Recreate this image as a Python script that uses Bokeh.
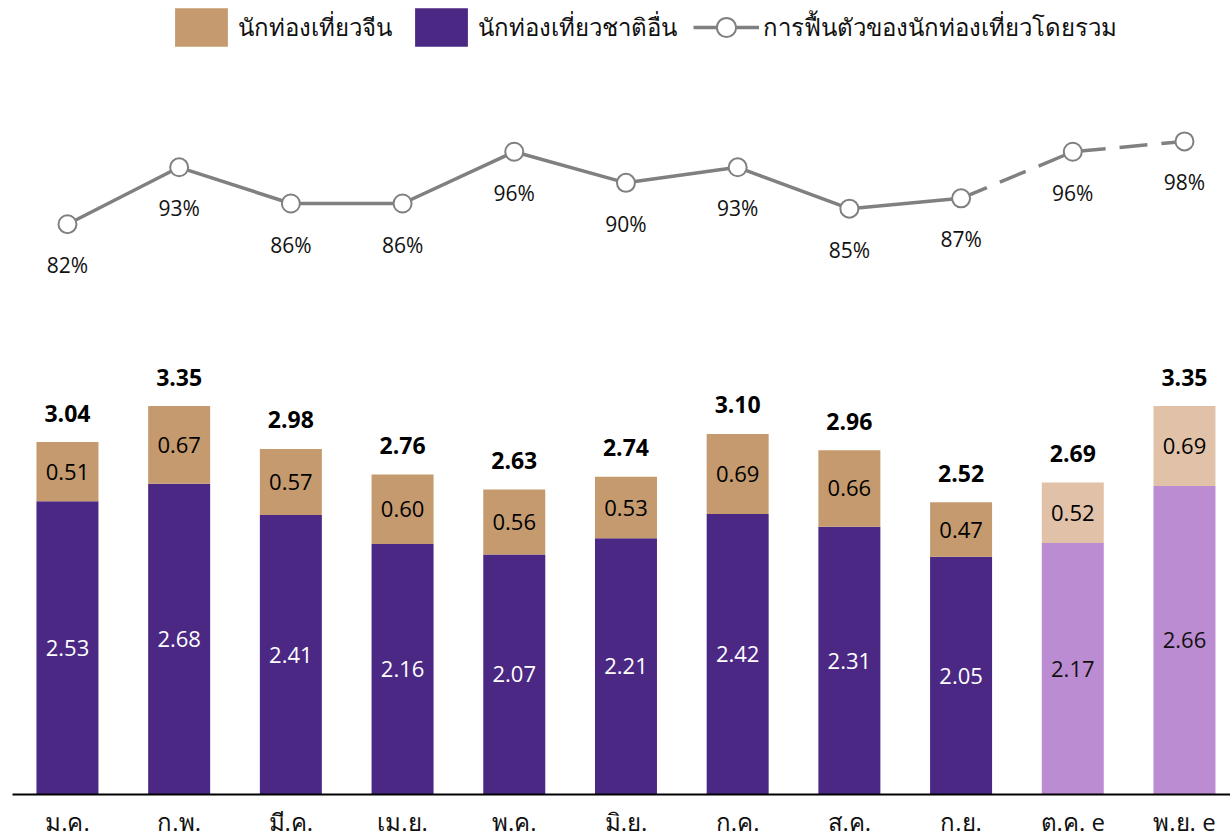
from bokeh.plotting import figure
from bokeh.models import ColumnDataSource, Range1d, FixedTicker, Legend, LegendItem
from bokeh.core.properties import value
from bokeh.embed import file_html
from bokeh.resources import INLINE

months = ["ม.ค.", "ก.พ.", "มี.ค.", "เม.ย.", "พ.ค.", "มิ.ย.", "ก.ค.", "ส.ค.", "ก.ย.", "ต.ค. e", "พ.ย. e"]
china = [0.51, 0.67, 0.57, 0.60, 0.56, 0.53, 0.69, 0.66, 0.47, 0.52, 0.69]
others = [2.53, 2.68, 2.41, 2.16, 2.07, 2.21, 2.42, 2.31, 2.05, 2.17, 2.66]
totals = [3.04, 3.35, 2.98, 2.76, 2.63, 2.74, 3.10, 2.96, 2.52, 2.69, 3.35]
recovery = [82, 93, 86, 86, 96, 90, 93, 85, 87, 96, 98]
forecast = [False] * 9 + [True] * 2

FONT = "Open Sans"
TAN, TAN_L = "#C49A6E", "#E1C2A9"
PUR, PUR_L = "#4B2884", "#BC8CD3"
GRAY = "#808080"

x = list(range(len(months)))
src = ColumnDataSource(dict(
    x=x,
    others=others,
    top=[o + c for o, c in zip(others, china)],
    mid_c=[o + c / 2 for o, c in zip(others, china)],
    mid_o=[o / 2 for o in others],
    ctext=[f"{c:.2f}" for c in china],
    otext=[f"{o:.2f}" for o in others],
    ttext=[f"{t:.2f}" for t in totals],
    ccol=[TAN_L if f else TAN for f in forecast],
    ocol=[PUR_L if f else PUR for f in forecast],
    otcol=["#111111" if f else "white" for f in forecast],
))

W, H = 1230, 840
p = figure(width=W, height=H, output_backend="svg", toolbar_location=None,
           x_range=Range1d(-0.492, 10.412), y_range=Range1d(0, 6.848),
           min_border_left=12, min_border_right=0, min_border_top=0, min_border_bottom=45)
p.outline_line_color = None
p.grid.visible = False
p.yaxis.visible = False
p.background_fill_color = "white"
p.border_fill_color = "white"

p.extra_y_ranges = {"pct": Range1d(-28.23, 125.24)}

bw = 0.555
r_o = p.vbar(x="x", bottom=0, top="others", width=bw, fill_color="ocol", line_color=None, source=src)
r_c = p.vbar(x="x", bottom="others", top="top", width=bw, fill_color="ccol", line_color=None, source=src)

p.text(x="x", y="mid_o", text="otext", source=src, text_align="center", text_baseline="middle",
       text_color="otcol", text_font=value(FONT), text_font_size="22px")
p.text(x="x", y="mid_c", text="ctext", source=src, text_align="center", text_baseline="middle",
       text_color="black", text_font=value(FONT), text_font_size="22px")
p.text(x="x", y="top", text="ttext", source=src, text_align="center", text_baseline="middle",
       y_offset=-29, text_color="black", text_font=value(FONT), text_font_size="23px",
       text_font_style="bold")

# recovery line
solid_src = ColumnDataSource(dict(x=x[:9], y=recovery[:9]))
dash_src = ColumnDataSource(dict(x=x[8:], y=recovery[8:]))
r_line = p.line("x", "y", source=solid_src, line_color=GRAY, line_width=3.5, y_range_name="pct")
p.line("x", "y", source=dash_src, line_color=GRAY, line_width=3.5, line_dash="28 14", y_range_name="pct")
pts = ColumnDataSource(dict(x=x, y=recovery, t=[f"{v}%" for v in recovery]))
r_pts = p.scatter("x", "y", source=pts, size=18, fill_color="white", line_color=GRAY, line_width=2,
                  y_range_name="pct")
p.text("x", "y", text="t", source=pts, y_range_name="pct", y_offset=41, text_align="center",
       text_baseline="middle", text_color="#111111", text_font=value(FONT), text_font_size="21px")

# x axis
p.xaxis.ticker = FixedTicker(ticks=x)
p.xaxis.major_label_overrides = {i: m for i, m in enumerate(months)}
p.xaxis.major_label_text_font = FONT
p.xaxis.major_label_text_font_size = "24px"
p.xaxis.major_label_text_color = "#111111"
p.xaxis.major_label_standoff = 10
p.xaxis.axis_line_color = "black"
p.xaxis.axis_line_width = 2
p.xaxis.major_tick_line_color = None
p.xaxis.minor_tick_line_color = None
p.xaxis.major_tick_out = 0
p.xaxis.major_tick_in = 0
p.xaxis.minor_tick_out = 0
p.xaxis.minor_tick_in = 0

legend = Legend(items=[
    LegendItem(label="นักท่องเที่ยวจีน", renderers=[r_c], index=0),
    LegendItem(label="นักท่องเที่ยวชาติอื่น", renderers=[r_o], index=0),
    LegendItem(label="การฟื้นตัวของนักท่องเที่ยวโดยรวม", renderers=[r_line, r_pts], index=0),
], orientation="horizontal", location=(156, 795 - 52))
legend.glyph_width = 66
legend.glyph_height = 48
legend.label_text_font = FONT
legend.label_text_font_size = "24px"
legend.label_text_color = "#111111"
legend.label_standoff = 4
legend.spacing = 16
legend.padding = 0
legend.margin = 0
legend.border_line_color = None
legend.background_fill_alpha = 0
p.add_layout(legend, "center")

open("out.html", "w").write(file_html(p, INLINE))
